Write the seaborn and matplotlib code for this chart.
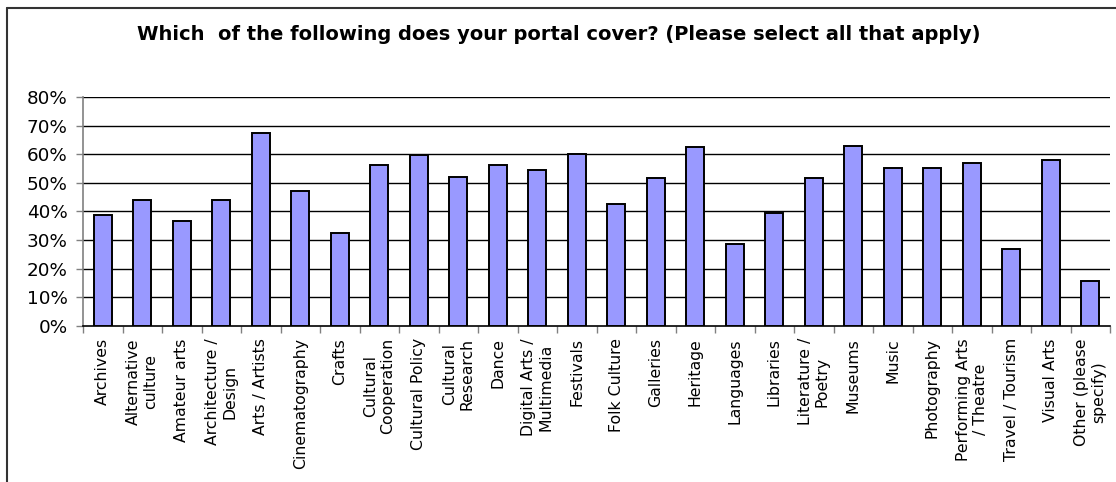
import matplotlib
matplotlib.use("Agg")
import matplotlib.pyplot as plt
from matplotlib.lines import Line2D
from matplotlib.ticker import FixedLocator, FuncFormatter
import seaborn as sns
import pandas as pd

# Survey answers: share of portals covering each topic (percent)
categories = [
    "Archives", "Alternative\nculture", "Amateur arts", "Architecture /\nDesign",
    "Arts / Artists", "Cinematography", "Crafts", "Cultural\nCooperation",
    "Cultural Policy", "Cultural\nResearch", "Dance", "Digital Arts /\nMultimedia",
    "Festivals", "Folk Culture", "Galleries", "Heritage", "Languages", "Libraries",
    "Literature /\nPoetry", "Museums", "Music", "Photography",
    "Performing Arts\n/ Theatre", "Travel / Tourism", "Visual Arts",
    "Other (please\nspecify)",
]
values = [
    38.8, 43.9, 36.6, 43.9, 67.5, 47.3, 32.6, 56.2, 59.7, 52.2, 56.3, 54.7, 60.3,
    42.7, 51.7, 62.5, 28.6, 39.4, 51.7, 63.1, 55.2, 55.2, 57.0, 27.0, 58.0, 15.8,
]
y_ticks = [0, 10, 20, 30, 40, 50, 60, 70, 80]
title = "Which  of the following does your portal cover? (Please select all that apply)"

df = pd.DataFrame({"topic": categories, "share": values})

sns.set_theme(style="white")
plt.rcParams["font.family"] = ["DejaVu Sans"]

W, H = 1116, 482
fig = plt.figure(figsize=(W / 100, H / 100), dpi=100)
fig.patch.set_facecolor("white")

left, right, top, bottom = 83, 1110, 97.3, 325.7
ax = fig.add_axes([left / W, 1 - bottom / H, (right - left) / W, (bottom - top) / H])

sns.barplot(data=df, x="topic", y="share", color="#9999FF", saturation=1,
            edgecolor="black", linewidth=1.4, width=0.46, ax=ax, zorder=3)

ax.set_xlim(-0.5, len(categories) - 0.5)
ax.set_ylim(0, 80)
ax.set_xlabel("")
ax.set_ylabel("")

# horizontal gridlines
ax.yaxis.set_major_locator(FixedLocator(y_ticks))
ax.yaxis.set_major_formatter(FuncFormatter(lambda v, _: f"{v:.0f}%"))
for v in y_ticks[1:]:
    ax.axhline(v, color="black", lw=1.0, zorder=1)

for side in ["top", "right"]:
    ax.spines[side].set_visible(False)
ax.spines["left"].set_color("#808080")
ax.spines["left"].set_linewidth(1.2)
ax.spines["bottom"].set_color("black")
ax.spines["bottom"].set_linewidth(1.2)

ax.tick_params(axis="y", which="major", left=True, length=5, width=1,
               color="#808080", pad=6, labelsize=13.2, labelcolor="black")

# category labels centred under bars; tick marks between categories
ax.set_xticks(range(len(categories)))
ax.set_xticklabels(categories, rotation=90, ha="center", va="top",
                   multialignment="center", fontsize=11.3, color="black")
ax.tick_params(axis="x", which="major", bottom=False, length=0, pad=9)
ax.set_xticks([i - 0.5 for i in range(len(categories) + 1)], minor=True)
ax.tick_params(axis="x", which="minor", bottom=True, length=5, width=1,
               color="#808080")

fig.text(559 / W, 1 - 34 / H, title, ha="center", va="center",
         fontsize=14.0, fontweight="bold", color="black")

# chart frame
fig.add_artist(Line2D([6.5 / W, 6.5 / W], [1 - 8 / H, 0], color="#333333",
                      lw=1.5, transform=fig.transFigure))
fig.add_artist(Line2D([6.5 / W, 1], [1 - 8 / H, 1 - 8 / H], color="#333333",
                      lw=1.5, transform=fig.transFigure))

fig.savefig("out.png", dpi=100, facecolor="white")
